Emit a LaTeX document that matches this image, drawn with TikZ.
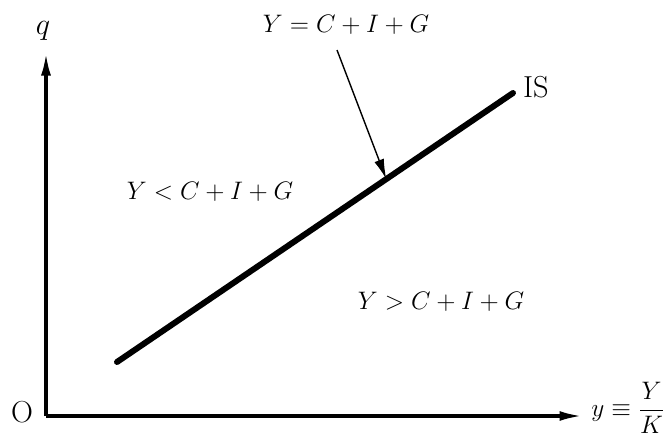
\documentclass[tikz,border=0pt]{standalone}
\usetikzlibrary{positioning,calc,arrows.meta}

\begin{document}
\begin{tikzpicture}[font=\Large, every node/.style={align=center},
    axis/.style={line width=1.8pt, -{Latex[length=4.5mm, width=2mm]}},
    curve/.style={line width=3.4pt, line cap=round}]
    \useasboundingbox (-0.92,-0.5) rectangle (12.42,8.32);

    % axes
    \coordinate (O) at (0,0);
    \node (qtip) at (0,7.26) {};
    \node (ytip) at (10.72,0) {};
    \draw[axis] (O) -- (qtip.center);
    \draw[axis] (O) -- (ytip.center);
    \node[font=\LARGE] (qlab) at (-0.06,7.7) {$q$};
    \node[font=\LARGE] (olab) at (-0.48,0.08) {O};
    \node[anchor=west, inner sep=0pt] (ylab) at (10.9,0.16) {$y\equiv\displaystyle\frac{Y}{K}$};

    % IS curve
    \coordinate (is0) at (1.42,1.08);
    \coordinate (is1) at (9.34,6.46);
    \draw[curve] (is0) -- (is1);
    \node[anchor=west, inner sep=1pt, font=\LARGE] (islab) at (9.5,6.58) {IS};

    % regions
    \node (eq) at (6.0,7.82) {$Y=C+I+G$};
    \node (less) at (3.28,4.48) {$Y<C+I+G$};
    \node (more) at (7.9,2.28) {$Y>C+I+G$};

    \coordinate (eqfoot) at (5.82,7.32);
    \coordinate (touch) at ($(is0)!0.68!(is1)$);
    \draw[line width=0.8pt, -{Latex[length=4mm, width=2mm]}] (eqfoot) -- (touch);
  \end{tikzpicture}
\end{document}
